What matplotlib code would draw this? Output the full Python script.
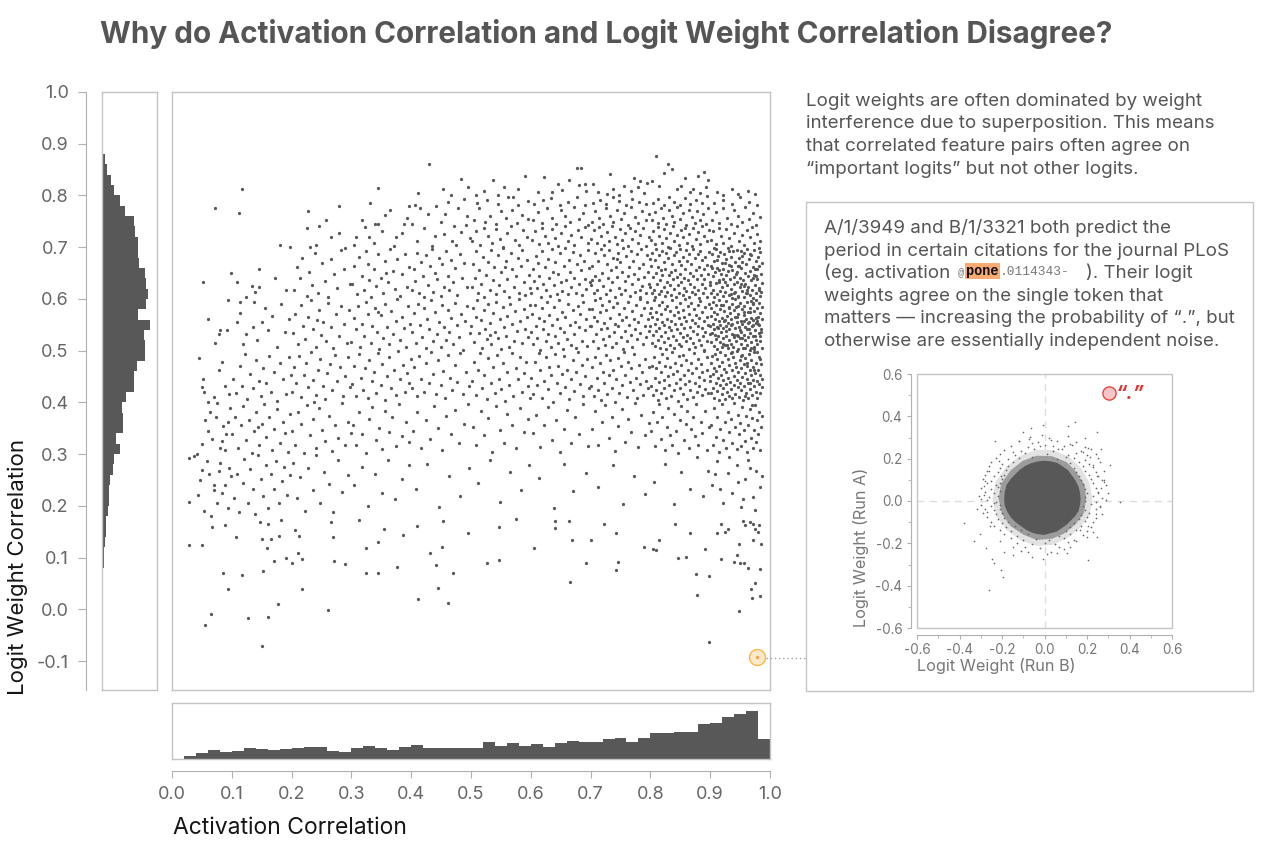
import numpy as np
import matplotlib
matplotlib.use("Agg")
import matplotlib.pyplot as plt
from matplotlib.patches import Rectangle
from matplotlib.lines import Line2D

# ---------------------------------------------------------------- data
# marginal histogram of activation correlation (bins of 0.02 from 0.0)
act_hist = [0, 8, 18, 27, 21, 24, 32, 29, 26, 29,
            32, 35, 36, 24, 21, 34, 38, 33, 27, 36,
            41, 33, 32, 32, 32, 32, 50, 38, 48, 38,
            45, 36, 48, 53, 52, 50, 61, 62, 51, 62,
            78, 79, 81, 81, 104, 107, 126, 134, 142, 60]
act_hist_start = 0.0
# marginal histogram of logit weight correlation (bins of 0.02 from -0.1)
logit_hist = [0.5, 0.5, 0.5, 1, 1, 1, 1.5, 2, 4, 6,
              7, 10, 11, 13, 17, 20, 22, 23, 33, 36,
              54, 43, 64, 64, 61, 71, 95, 95, 106, 128,
              128, 125, 143, 108, 131, 138, 131, 128, 110, 108,
              108, 100, 95, 68, 53, 36, 28, 15, 8, 3]
logit_hist_start = -0.1
hist_bin = 0.02

# feature pairs: (activation correlation, logit weight correlation) x 1000
feature_pairs = [
 # sparse low region
 29,124, 51,124, 67,160, 88,163, 107,140, 86,70, 117,66, 94,39, 65,-10, 56,-30, 150,-70, 127,-17, 160,-14, 177,11,
 261,-2, 217,40, 411,20, 462,13, 445,42, 470,71, 441,85, 431,109, 451,120, 377,82, 344,71, 324,71, 325,118, 344,131,
 289,87, 271,94, 269,140, 266,168, 218,98, 210,108, 200,89, 190,100, 170,93, 153,74, 159,118, 151,135, 165,135, 179,141,
 206,154, 213,142, 147,168, 161,165, 182,172, 313,172, 355,156, 387,143, 409,161, 454,170, 495,148, 527,89, 546,96,
 546,160, 575,175, 605,118, 641,170, 641,158, 664,170, 669,134, 666,53, 700,134, 693,90, 723,165, 742,147, 742,76,
 746,91, 789,120, 805,117, 810,115, 814,133, 841,165, 846,99, 859,102, 867,147, 876,69, 878,27, 891,117, 898,65,
 898,-64, 918,98, 912,148, 918,165, 925,150, 930,155, 939,91, 944,105, 948,127, 948,-3, 950,90, 957,90, 963,80,
 968,39, 970,21, 975,50, 983,77, 983,26, 985,127, 972,133, 955,170, 958,163, 967,168, 972,165, 982,163, 975,155, 980,150,
 # 0.0 - 0.1
 29,208, 43,220, 54,190, 46,250, 51,270, 58,287, 29,293, 37,296, 66,180, 70,240, 70,230, 62,262, 75,205, 81,283,
 88,241, 93,196, 78,268, 96,274, 84,225, 99,258,
 42,300, 50,320, 61,345, 67,330, 73,372, 80,312, 86,355, 91,338, 97,390, 76,398, 55,365, 89,307, 64,381, 94,362, 83,326,
 50,430, 52,445, 54,420, 61,400, 70,410, 45,485, 79,462, 88,431, 96,417, 84,478,
 81,540, 92,540, 78,533, 61,562, 94,597, 72,515, 52,632, 98,651, 72,776,
 # 0.1 - 0.2
 103,215, 108,262, 112,188, 118,244, 121,290, 127,206, 131,271, 136,233, 139,184, 144,298, 148,251, 152,219, 157,279,
 161,196, 166,262, 170,232, 174,287, 179,205, 184,248, 188,276, 193,221, 197,259,
 101,338, 106,372, 110,311, 115,356, 119,393, 124,327, 128,365, 133,302, 137,344, 141,381, 146,318, 150,359, 154,396,
 158,333, 163,371, 167,308, 171,349, 176,387, 180,322, 185,362, 189,340, 194,305, 198,378, 143,352,
 102,446, 107,418, 113,471, 117,432, 122,493, 126,407, 130,455, 135,428, 140,482, 145,441, 149,412, 153,466, 158,437,
 162,490, 166,421, 171,458, 175,403, 180,476, 185,445, 190,417, 195,488, 199,452,
 109,555, 114,573, 113,595, 124,532, 135,545, 150,556, 137,595, 118,512, 142,521, 156,583, 161,540, 168,567, 176,508,
 183,591, 189,536, 196,562,
 109,632, 124,603, 133,625, 145,657, 145,623, 138,613, 172,641, 191,618, 112,766, 181,705, 117,812,
 # 0.2 - 0.3
 203,282, 209,215, 214,256, 222,190, 228,273, 235,231, 241,298, 248,205, 255,266, 262,243, 270,188, 277,289, 285,227, 294,259,
 201,344, 206,317, 211,381, 216,358, 221,302, 226,395, 231,336, 236,368, 241,312, 246,389, 251,347, 256,325, 262,374,
 267,306, 273,357, 278,332, 284,398, 289,318, 295,363, 299,341,
 200,421, 204,468, 208,437, 212,489, 216,410, 220,452, 224,476, 228,429, 232,497, 236,444, 240,415, 244,462, 248,483,
 252,431, 256,406, 260,457, 264,475, 268,424, 272,491, 276,442, 281,468, 286,413, 290,451, 294,487, 298,430, 238,400,
 202,535, 206,571, 211,512, 215,589, 219,548, 223,523, 228,565, 232,597, 236,541, 240,508, 245,578, 249,531, 253,556,
 257,519, 261,593, 266,545, 270,506, 275,571, 279,528, 283,586, 288,552, 292,514, 296,579, 243,560,
 204,618, 209,662, 214,641, 217,680, 225,605, 229,653, 234,627, 239,688, 244,612, 250,669, 256,634, 261,603, 266,677,
 271,648, 276,621, 282,694, 288,657, 297,629,
 198,700, 228,769, 225,737, 246,741, 230,700, 240,704, 266,719, 279,780, 280,728, 258,752,
 # 0.3 - 0.4
 304,241, 317,276, 328,199, 339,262, 351,225, 362,288, 373,213, 385,251, 396,279,
 302,356, 307,318, 313,381, 318,339, 324,302, 330,367, 335,392, 341,327, 346,351, 352,309, 357,384, 363,342, 368,371,
 374,315, 380,397, 385,335, 391,362, 397,324,
 301,436, 305,471, 308,412, 312,493, 316,448, 319,424, 323,467, 327,409, 330,482, 334,441, 338,459, 341,418, 345,496,
 349,433, 352,475, 356,404, 360,451, 363,488, 367,427, 371,463, 374,415, 378,499, 382,445, 386,472, 389,421, 393,457,
 396,437, 399,484,
 300,517, 304,563, 307,541, 311,586, 314,508, 318,552, 321,529, 325,594, 328,571, 332,515, 335,547, 339,582, 342,536,
 346,503, 349,568, 353,524, 356,591, 360,545, 363,512, 367,576, 370,533, 374,558, 377,599, 381,521, 384,565, 388,543,
 391,507, 395,587, 398,552, 344,575,
 301,628, 305,664, 309,609, 313,681, 317,645, 321,617, 325,692, 329,637, 333,603, 337,658, 341,625, 345,686, 349,641,
 353,612, 357,673, 361,632, 365,697, 369,654, 373,619, 377,678, 381,606, 385,649, 389,687, 393,624, 397,662, 358,650, 327,668,
 344,744, 340,744, 329,720, 308,720, 304,705, 290,698, 338,709, 375,719, 388,745, 396,780, 393,757, 385,728, 317,752,
 352,731, 365,771, 331,786, 371,703, 356,762, 322,739, 344,815,
 # 0.4 - 0.5
 408,232, 427,281, 446,197, 463,258, 481,219, 497,274,
 403,344, 410,381, 417,312, 424,365, 431,329, 438,393, 445,351, 452,307, 459,374, 466,338, 473,386, 480,322, 488,359, 495,396,
 401,427, 405,468, 409,412, 413,489, 417,445, 421,421, 425,476, 429,437, 433,498, 437,455, 441,416, 445,482, 449,433,
 453,461, 457,408, 461,491, 465,447, 469,424, 473,472, 477,439, 482,495, 486,416, 491,458, 496,431,
 402,537, 405,572, 408,514, 411,591, 414,549, 418,526, 421,583, 424,505, 427,562, 430,541, 433,597, 436,519, 440,574,
 443,532, 446,556, 449,508, 452,588, 455,545, 458,521, 461,579, 464,536, 467,564, 470,512, 473,593, 476,549, 480,527,
 483,571, 486,502, 490,558, 494,586, 498,535,
 401,618, 404,657, 407,634, 410,689, 413,611, 416,672, 419,645, 422,603, 425,684, 428,627, 431,663, 434,696, 437,614,
 440,651, 443,638, 446,679, 449,606, 452,667, 455,624, 458,692, 461,645, 464,617, 467,676, 470,633, 474,659, 477,608,
 481,687, 485,641, 489,669, 494,624,
 415,775, 442,780, 478,776, 494,760, 402,744, 409,712, 421,738, 428,765, 434,703, 449,749, 455,726, 461,788, 468,711,
 472,741, 484,729, 488,793, 499,718, 406,781, 439,722, 457,764, 475,705, 491,742,
 429,860, 466,800, 495,817, 453,812, 412,805, 483,831,
 # 0.5 - 0.6
 512,244, 531,289, 549,207, 566,266, 583,231, 597,279,
 503,352, 509,318, 516,384, 522,337, 529,369, 535,305, 542,393, 548,346, 555,321, 561,378, 568,356, 575,311, 582,389,
 589,342, 596,367,
 501,441, 505,478, 508,414, 512,463, 515,495, 519,428, 522,452, 526,407, 529,486, 533,437, 536,469, 540,419, 543,491,
 547,446, 550,425, 554,477, 557,403, 561,458, 564,434, 568,496, 571,412, 575,467, 578,445, 582,488, 585,421, 589,456,
 592,479, 596,432, 599,409,
 500,548, 503,583, 505,517, 508,566, 510,597, 513,534, 516,559, 518,506, 521,578, 524,541, 526,522, 529,591, 532,553,
 534,512, 537,572, 540,537, 542,595, 545,524, 548,561, 550,503, 553,584, 556,545, 558,529, 561,567, 564,508, 566,590,
 569,551, 572,519, 574,576, 577,538, 580,599, 582,557, 585,514, 588,581, 590,542, 593,566, 595,526, 598,589, 531,531,
 501,623, 503,667, 506,641, 509,693, 511,612, 514,655, 517,629, 520,681, 522,604, 525,646, 528,672, 531,618, 533,695,
 536,637, 539,661, 542,609, 545,684, 547,627, 550,652, 553,698, 556,616, 558,673, 561,639, 564,604, 567,688, 569,658,
 572,624, 575,645, 578,679, 580,612, 583,664, 586,695, 589,633, 591,608, 594,676, 597,647, 599,621, 557,661,
 502,712, 509,731, 515,704, 522,738, 528,722, 535,709, 541,735, 548,716, 554,701, 561,727, 567,741, 574,713, 580,705,
 587,733, 594,719, 505,752, 514,776, 523,748, 532,761, 541,744, 550,769, 559,757, 568,772, 577,746, 586,763, 595,755,
 510,786, 527,792, 545,783, 562,797, 579,781, 596,789,
 508,800, 545,800, 571,797, 591,838, 522,808, 556,817, 536,829, 579,812,
 # 0.6 - 0.7
 614,253, 638,196, 655,281, 671,228, 692,264,
 603,341, 609,376, 616,313, 622,357, 629,392, 635,328, 642,366, 648,304, 655,349, 661,385, 668,322, 674,371, 681,339,
 688,397, 695,315,
 601,448, 604,417, 607,479, 610,433, 613,496, 616,462, 619,409, 622,441, 625,487, 628,425, 631,468, 634,452, 637,401,
 640,493, 643,437, 646,471, 649,418, 652,455, 655,489, 658,429, 661,463, 664,406, 667,446, 670,481, 673,422, 676,458,
 679,497, 682,436, 685,472, 688,413, 691,451, 694,484, 697,428,
 600,536, 602,571, 604,512, 607,589, 609,548, 611,525, 613,563, 616,502, 618,582, 620,541, 622,557, 625,519, 627,594,
 629,533, 631,568, 634,507, 636,550, 638,585, 640,528, 643,561, 645,515, 647,598, 649,544, 652,575, 654,503, 656,537,
 658,566, 661,522, 663,590, 665,549, 667,511, 670,579, 672,532, 674,556, 676,505, 679,587, 681,545, 683,571, 685,518,
 688,595, 690,539, 692,562, 694,509, 697,581, 699,548,
 601,612, 603,657, 605,634, 608,683, 610,621, 612,669, 614,645, 617,603, 619,692, 621,628, 623,661, 626,617, 628,678,
 630,641, 632,605, 635,697, 637,653, 639,626, 641,671, 644,610, 646,648, 648,688, 650,633, 653,616, 655,664, 657,699,
 659,637, 662,609, 664,676, 666,652, 668,624, 671,691, 673,641, 675,612, 677,667, 680,629, 682,684, 684,655, 686,607,
 689,674, 691,638, 693,619, 695,694, 697,660, 699,633,
 602,714, 607,731, 613,706, 618,738, 624,722, 629,709, 635,736, 640,717, 646,702, 651,728, 657,741, 662,711, 668,724,
 673,705, 679,733, 684,719, 690,739, 695,708, 604,752, 612,768, 619,746, 627,775, 635,757, 642,744, 650,771, 658,761,
 665,749, 673,777, 681,755, 688,766, 696,743, 606,784, 620,791, 634,796, 648,782, 662,788, 677,797, 691,781,
 622,835, 652,811, 677,853, 684,854, 680,820, 690,822, 636,807, 664,829, 612,806, 646,823, 693,809,
 # 0.7 - 0.8
 713,236, 738,279, 755,204, 772,258, 791,223,
 702,349, 708,383, 713,317, 719,362, 724,394, 730,331, 735,372, 741,306, 746,355, 752,388, 757,324, 763,367, 768,342,
 774,398, 779,313, 785,376, 791,336, 797,361,
 701,431, 703,469, 706,412, 708,488, 711,447, 713,423, 716,476, 718,405, 721,459, 723,438, 726,492, 728,416, 731,453,
 733,481, 736,427, 738,463, 741,401, 743,445, 746,486, 748,419, 751,471, 753,434, 756,497, 758,452, 761,411, 763,478,
 766,439, 768,466, 771,424, 773,493, 776,448, 778,408, 781,472, 783,436, 786,459, 788,415, 791,484, 793,442, 796,427, 798,468,
 700,548, 702,581, 704,519, 706,566, 707,597, 709,532, 711,558, 713,506, 715,574, 717,541, 719,589, 720,523, 722,553,
 724,511, 726,578, 728,544, 730,596, 731,529, 733,563, 735,507, 737,585, 739,537, 741,552, 743,514, 744,592, 746,547,
 748,571, 750,526, 752,559, 754,503, 756,583, 757,538, 759,566, 761,518, 763,594, 765,549, 767,531, 769,577, 770,508,
 772,561, 774,542, 776,588, 778,522, 780,556, 782,599, 783,535, 785,569, 787,512, 789,583, 791,547, 793,527, 795,594,
 796,561, 798,538, 799,573,
 701,627, 703,664, 705,611, 707,689, 708,645, 710,618, 712,673, 714,636, 716,602, 718,697, 719,651, 721,625, 723,684,
 725,609, 727,668, 729,641, 731,694, 732,617, 734,656, 736,632, 738,679, 740,604, 742,661, 744,643, 745,688, 747,621,
 749,671, 751,609, 753,652, 755,698, 757,634, 758,617, 760,683, 762,645, 764,662, 766,606, 768,692, 770,629, 771,674,
 773,648, 775,614, 777,686, 779,638, 781,659, 783,603, 784,696, 786,625, 788,667, 790,642, 792,611, 794,684, 796,653,
 797,628, 799,677, 703,636, 744,677, 782,617,
 701,716, 705,733, 710,708, 714,739, 718,722, 723,704, 727,729, 731,712, 736,741, 740,719, 744,706, 749,735, 753,713,
 757,727, 762,702, 766,738, 770,716, 775,731, 779,709, 783,724, 788,737, 792,703, 797,719, 702,748, 708,769, 714,756,
 720,744, 726,775, 732,761, 738,749, 744,772, 750,755, 756,766, 762,743, 768,777, 774,758, 780,747, 786,770, 792,753,
 798,764, 704,786, 715,792, 726,783, 737,797, 748,789, 759,781, 770,794, 781,788, 793,784,
 773,833, 783,828, 794,825, 712,806, 738,812, 727,803, 756,818, 767,808, 789,804, 748,801, 704,822, 733,841, 779,816,
 # 0.8 - 0.9
 806,247, 824,281, 839,203, 851,265, 866,232, 878,294, 888,219, 897,268,
 801,344, 804,381, 807,316, 811,362, 814,397, 817,329, 820,371, 824,308, 827,353, 830,389, 833,336, 836,318, 840,377,
 843,345, 846,302, 849,365, 852,393, 856,327, 859,358, 862,384, 865,311, 868,349, 871,372, 874,335, 877,397, 880,318,
 884,362, 887,341, 891,384, 895,307, 898,353,
 801,432, 802,471, 804,414, 806,488, 807,447, 809,423, 810,466, 812,405, 814,479, 815,439, 817,458, 818,418, 820,494,
 822,443, 823,427, 825,471, 826,409, 828,486, 830,451, 831,433, 833,468, 834,412, 836,497, 838,455, 839,424, 841,476,
 842,437, 844,461, 846,403, 847,489, 849,446, 850,428, 852,473, 854,416, 855,492, 857,452, 858,435, 860,481, 862,407,
 863,463, 865,441, 866,424, 868,477, 870,457, 871,411, 873,496, 874,438, 876,466, 878,421, 879,484, 881,449, 882,431,
 884,474, 886,414, 887,458, 889,499, 890,443, 892,426, 894,487, 895,462, 897,418, 899,451,
 800,547, 801,583, 802,514, 803,566, 804,531, 806,598, 807,552, 808,509, 809,574, 810,538, 811,561, 812,521, 814,589,
 815,543, 816,505, 817,571, 818,528, 819,556, 820,594, 822,517, 823,549, 824,581, 825,536, 826,503, 827,562, 828,587,
 830,524, 831,545, 832,576, 833,511, 834,558, 835,539, 836,597, 838,529, 839,568, 840,506, 841,552, 842,584, 843,521,
 844,541, 846,574, 847,513, 848,563, 849,592, 850,534, 851,552, 852,509, 854,579, 855,527, 856,566, 857,544, 858,599,
 859,518, 860,557, 862,531, 863,586, 864,504, 865,571, 866,546, 867,525, 868,593, 870,559, 871,514, 872,538, 873,581,
 874,553, 875,507, 876,569, 878,532, 879,588, 880,547, 881,521, 882,563, 883,596, 884,511, 886,543, 887,575, 888,528,
 889,557, 890,502, 891,584, 892,536, 894,566, 895,519, 896,549, 898,591, 899,533,
 800,623, 801,664, 802,611, 803,689, 804,642, 806,617, 807,675, 808,603, 809,651, 810,697, 811,628, 812,661, 814,609,
 815,684, 816,637, 817,655, 818,615, 819,692, 820,646, 822,624, 823,671, 824,606, 825,658, 826,688, 827,633, 828,614,
 830,679, 831,647, 832,626, 833,699, 834,653, 835,608, 836,667, 838,638, 839,684, 840,619, 841,656, 842,603, 843,691,
 844,643, 846,627, 847,673, 848,612, 849,649, 850,696, 851,632, 852,665, 854,607, 855,681, 856,641, 857,622, 858,658,
 859,694, 860,616, 862,673, 863,636, 864,604, 865,687, 866,651, 867,629, 868,668, 870,613, 871,697, 872,645, 873,624,
 874,679, 875,609, 876,655, 878,639, 879,686, 880,618, 881,662, 882,601, 883,693, 884,647, 886,628, 887,675, 888,611,
 889,657, 890,638, 891,682, 892,621, 894,665, 895,604, 896,649, 898,691, 899,633,
 801,714, 805,731, 808,706, 812,739, 815,722, 819,709, 822,735, 826,717, 830,701, 833,727, 837,741, 840,712, 844,724,
 847,705, 851,733, 855,719, 858,738, 862,708, 865,726, 869,702, 872,737, 876,715, 880,729, 883,706, 887,740, 890,721,
 894,711, 898,734, 802,752, 807,768, 812,746, 817,775, 821,757, 826,744, 831,771, 836,761, 840,749, 845,777, 850,755,
 855,766, 859,743, 864,772, 869,758, 874,747, 878,769, 883,753, 888,764, 893,745, 897,776, 804,786, 813,793, 822,782,
 831,797, 840,788, 849,781, 858,795, 867,784, 876,791, 886,786, 895,798,
 810,876, 830,860, 836,852, 822,843, 858,833, 879,838, 890,845, 897,829, 845,812, 866,807, 814,818, 883,805,
 803,828, 851,819, 872,812, 893,816,
 # 0.9 - 1.0
 903,241, 912,287, 921,206, 929,263, 936,225, 944,279, 951,198, 958,252, 964,289, 971,217, 977,268, 983,236,
 908,261, 917,233, 932,294, 947,246, 955,213, 966,274, 975,191, 986,257,
 901,356, 904,318, 907,389, 909,334, 912,371, 915,304, 917,349, 920,396, 922,327, 925,362, 927,311, 930,381, 932,343,
 935,367, 937,321, 939,398, 941,352, 944,309, 946,376, 948,338, 950,361, 952,315, 954,392, 956,347, 958,326, 960,373,
 962,304, 964,357, 966,388, 968,331, 970,369, 972,312, 974,346, 975,394, 977,323, 979,365, 980,339, 982,381, 984,307,
 985,352, 986,374, 970,395,
 900,441, 901,476, 902,418, 903,489, 904,455, 905,427, 906,467, 907,409, 908,493, 909,438, 910,461, 911,422, 912,483,
 913,447, 914,405, 915,471, 916,434, 917,497, 918,452, 919,416, 920,478, 921,443, 922,428, 923,465, 924,406, 925,491,
 926,436, 927,459, 928,421, 929,484, 930,448, 931,413, 932,472, 933,439, 934,496, 935,425, 936,462, 937,408, 938,487,
 939,451, 940,433, 941,476, 942,417, 943,469, 944,444, 945,499, 946,429, 947,458, 948,411, 949,481, 950,437, 951,466,
 952,423, 953,492, 954,449, 955,404, 956,474, 957,431, 958,457, 959,486, 960,419, 961,446, 962,471, 963,409, 964,438,
 965,494, 966,463, 967,426, 968,452, 969,481, 970,414, 971,443, 972,468, 973,432, 974,497, 975,456, 976,421, 977,477,
 978,441, 979,408, 980,463, 981,435, 982,488, 983,452, 984,418, 985,474, 986,446, 987,429, 966,437, 958,413,
 900,548, 901,583, 901,516, 902,567, 903,535, 904,594, 905,552, 906,509, 906,574, 907,541, 908,562, 909,523, 910,589,
 911,546, 911,503, 912,571, 913,529, 914,557, 915,598, 916,517, 916,549, 917,581, 918,536, 919,507, 920,563, 921,588,
 921,525, 922,544, 923,576, 924,511, 925,559, 926,538, 926,596, 927,528, 928,567, 929,505, 930,553, 931,584, 931,521,
 932,542, 933,573, 934,513, 935,561, 936,591, 936,533, 937,551, 938,508, 939,579, 940,527, 941,565, 941,543, 942,599,
 943,518, 944,556, 945,531, 946,586, 946,504, 947,570, 948,545, 949,524, 950,592, 951,558, 951,513, 952,537, 953,580,
 954,552, 955,506, 956,568, 956,531, 957,587, 958,546, 959,520, 960,562, 961,595, 961,510, 962,542, 963,574, 964,527,
 965,556, 966,501, 966,583, 967,535, 968,564, 969,517, 970,548, 971,590, 971,528, 972,559, 973,507, 974,576, 975,539,
 976,597, 976,521, 977,553, 978,582, 979,512, 980,566, 981,534, 981,592, 982,549, 983,518, 984,573, 985,541, 986,561,
 986,505, 987,585, 984,529, 979,557, 974,503, 969,596, 963,553, 957,574, 949,539, 943,585, 934,549, 928,511, 923,557,
 918,589, 913,543, 908,531,
 922,512, 927,547, 931,583, 936,498, 940,531, 944,566, 947,603, 951,489, 954,524, 957,558, 960,612, 962,477, 965,541,
 967,575, 969,506, 971,593, 973,462, 975,529, 976,563, 978,498, 980,552, 982,617, 983,484, 985,536, 972,549, 958,506, 946,528,
 900,626, 901,663, 902,612, 903,687, 904,644, 905,618, 906,674, 907,603, 908,652, 909,696, 910,631, 911,659, 912,609,
 913,683, 914,637, 915,655, 916,616, 917,691, 918,648, 919,624, 920,670, 921,606, 922,657, 923,686, 924,633, 925,614,
 926,678, 927,646, 928,627, 929,698, 930,654, 931,608, 932,665, 933,639, 934,682, 935,619, 936,656, 937,602, 938,692,
 939,642, 940,628, 941,672, 942,613, 943,649, 944,695, 945,633, 946,664, 947,605, 948,680, 949,641, 950,623, 951,659,
 952,693, 953,615, 954,671, 955,636, 956,604, 957,688, 958,651, 959,629, 960,667, 961,612, 962,697, 963,645, 964,624,
 965,678, 966,608, 967,654, 968,637, 969,685, 970,617, 971,661, 972,601, 973,694, 974,646, 975,627, 976,674, 977,611,
 978,657, 979,639, 980,681, 981,622, 982,664, 983,606, 984,691, 985,648, 986,631, 987,670, 903,659, 912,675, 921,638,
 931,692, 939,611, 948,664, 957,625, 967,687, 977,644, 985,613, 906,699, 915,633, 925,669, 935,609, 944,652, 953,683,
 962,618, 972,641, 981,699, 934,663, 952,629, 975,658,
 901,714, 905,731, 909,706, 914,738, 918,722, 922,709, 927,735, 931,717, 935,702, 940,728, 944,741, 948,711, 953,724,
 957,705, 961,733, 966,719, 970,739, 974,708, 979,726, 983,712, 903,752, 909,768, 915,746, 921,775, 928,757, 934,744,
 940,771, 946,761, 953,749, 959,777, 965,755, 971,766, 977,743, 984,759, 907,786, 921,792, 936,783, 950,797, 965,788, 979,781,
 912,806, 936,812, 947,803, 963,809, 921,801, 975,802,
]
highlight_pair = (0.978, -0.093)

# inset: logit weights of the two features (Run B on x, Run A on y), x 1000
inset_core = [170,10, 167,40, 160,68, 147,95, 130,119, 112,144, 88,162, 62,179, 31,187, 0,190, -31,187, -62,179,
              -90,166, -116,148, -138,126, -160,103, -179,75, -187,43, -190,10, -187,-23, -174,-53, -156,-80,
              -134,-102, -109,-120, -85,-137, -58,-150, -30,-157, 0,-160, 29,-152, 56,-145, 80,-129, 103,-113,
              123,-93, 143,-73, 160,-48, 167,-20]
inset_fringe_inner = [196,10, 190,74, 150,136, 104,184, 34,212, -38,214, -102,190, -158,146, -204,82, -216,12,
                      -200,-62, -160,-118, -98,-160, -36,-184, 36,-178, 92,-154, 148,-108, 186,-56]
inset_fringe_outer = [225,10, 212,87, 172,155, 115,209, 40,241, -40,241, -117,213, -180,161, -229,94, -245,10,
                      -226,-72, -177,-138, -112,-186, -39,-212, 38,-207, 107,-176, 165,-128, 212,-67]
inset_speckle = [-70,302, 20,296, 110,305, -120,283, -30,277, 60,285, 150,279, -160,262, -80,255, 0,266, 90,258,
                 130,263, 190,256, -190,243, -110,236, -50,245, 40,238, 80,244, 170,237, 220,246, -210,224,
                 -140,218, -90,226, 10,221, 110,216, 150,225, 200,219, 240,223, -230,203, -170,197, -120,205,
                 -60,206, 60,199, 100,207, 140,201, 190,196, 250,204, -250,183, -200,177, -150,185, 120,179,
                 160,184, 210,176, 260,182, -260,163, -210,157, -170,165, 140,158, 180,164, 230,161, -270,142,
                 -220,136, -180,145, 150,138, 190,144, 240,137, 280,141, -280,122, -240,117, -190,125, 160,118,
                 210,124, 250,116, -290,103, -250,96, -200,104, 170,98, 220,105, 270,97, -270,83, -230,77,
                 -210,85, 180,79, 230,84, 290,76, -300,62, -250,57, -220,64, 190,58, 240,63, -280,43, -240,37,
                 -210,45, 200,38, 250,44, 300,36, -310,23, -260,17, -220,24, 190,18, 230,25, 270,16, -270,3,
                 -230,-4, 190,2, 240,-3, 290,4, -300,-17, -250,-24, -210,-18, 180,-23, 220,-16, 260,-22,
                 -280,-37, -240,-44, -210,-38, 190,-43, 240,-36, -290,-57, -230,-63, -200,-56, 170,-64, 210,-58,
                 270,-61, -270,-77, -220,-84, -190,-78, 160,-83, 200,-76, 240,-82, -250,-97, -200,-103,
                 -170,-98, 140,-104, 190,-96, 230,-101, -240,-117, -180,-124, -140,-118, 120,-123, 170,-116,
                 220,-122, -210,-137, -160,-143, -110,-138, 100,-144, 150,-136, 200,-142, -190,-157, -130,-163,
                 -80,-158, 70,-164, 120,-156, 180,-162, -160,-177, -100,-183, -40,-178, 20,-184, 90,-176,
                 140,-182, -130,-197, -60,-203, 0,-198, 50,-204, 110,-196, -90,-217, -20,-223, 70,-218,
                 -110,-237, 30,-243]
inset_outliers = [-103,327, -64,343, -73,291, -12,311, -5,357, 144,371, 112,356, 246,324, 266,248, 306,168, 278,99,
                  282,92, 353,-7, 246,-170, 207,-277, 230,-146, 105,-248, -9,-272, -61,-264, -150,-256, -238,-292,
                  -205,-324, -194,-359, -262,-419, -331,-190, -377,-106, -317,-40, -278,95, -285,72, -234,283,
                  -207,117, -304,-154, -273,-222, -245,-272, 191,299, 207,251, 65,248, 40,259, -122,283, 167,-138,
                  199,-170, 252,40, 262,-30, 248,120, 230,170, 180,230, 120,270, 30,290, -60,275, -150,230,
                  -215,190, -262,140, -285,30, -272,-50, -255,-120, -210,-190, -150,-215, -80,-240, 10,-250,
                  90,-225, 150,-190, 205,-120, 240,-60, 268,60, -240,-10, -300,10, 120,-215, -20,260, 215,210,
                  -190,-240, 60,-245]
period_token = (0.303, 0.51)
period_label = "\u201c.\u201d"

title = "Why do Activation Correlation and Logit Weight Correlation Disagree?"
intro_lines = ["Logit weights are often dominated by weight",
               "interference due to superposition. This means",
               "that correlated feature pairs often agree on",
               "\u201cimportant logits\u201d but not other logits."]
box_lines = ["A/1/3949 and B/1/3321 both predict the",
             "period in certain citations for the journal PLoS",
             None,
             "weights agree on the single token that",
             "matters \u2014 increasing the probability of \u201c.\u201d, but",
             "otherwise are essentially independent noise."]
main_ticks = [-0.1, 0.0, 0.1, 0.2, 0.3, 0.4, 0.5, 0.6, 0.7, 0.8, 0.9, 1.0]
x_ticks = [0.0, 0.1, 0.2, 0.3, 0.4, 0.5, 0.6, 0.7, 0.8, 0.9, 1.0]
inset_ticks = [-0.6, -0.4, -0.2, 0.0, 0.2, 0.4, 0.6]

# ---------------------------------------------------------------- style
plt.rcParams['font.family'] = ['Inter', 'DejaVu Sans']
plt.rcParams['axes.unicode_minus'] = False

W, H = 1267, 848
fig = plt.figure(figsize=(W / 100, H / 100), dpi=100)


def box(l, t, r, b):
    return [l / W, 1 - b / H, (r - l) / W, (b - t) / H]


def fx(px):
    return px / W


def fy(py):
    return 1 - py / H


def xy(lst):
    return np.array(lst, dtype=float).reshape(-1, 2) / 1000.0


BORDER = '#c4c4c4'
AXIS = '#b0b0b0'
DOT = '#585858'
TXT = '#555555'
TICK = '#666666'
BODY = 13.5
YLIM = (-0.156, 1.0)

pts = xy(feature_pairs)

# main scatter
ax = fig.add_axes(box(172, 92, 770, 690))
ax.set_xlim(0, 1)
ax.set_ylim(*YLIM)
ax.set_xticks([])
ax.set_yticks([])
for s in ax.spines.values():
    s.set_color(BORDER)
    s.set_linewidth(1)
ax.scatter(pts[:, 0], pts[:, 1], s=5.5, c=DOT, linewidths=0, zorder=2)
ax.plot([highlight_pair[0]], [highlight_pair[1]], 'o', ms=11.5, mfc='#fde9c9',
        mec='#f6b84c', mew=1, zorder=3, clip_on=False)
ax.plot([highlight_pair[0]], [highlight_pair[1]], 'o', ms=2.4, mfc='#f3a04a',
        mec='none', zorder=4, clip_on=False)

# left marginal histogram
axl = fig.add_axes(box(102, 92, 157, 690))
edges_l = logit_hist_start + hist_bin * np.arange(len(logit_hist))
axl.barh(edges_l, logit_hist, height=hist_bin, align='edge', color=DOT, linewidth=0)
axl.set_ylim(*YLIM)
axl.set_xlim(0, 165)
axl.set_xticks([])
axl.set_yticks([])
for s in axl.spines.values():
    s.set_color(BORDER)
    s.set_linewidth(1)

# bottom marginal histogram
axb = fig.add_axes(box(172, 703, 770, 759))
edges_b = act_hist_start + hist_bin * np.arange(len(act_hist))
axb.bar(edges_b, act_hist, width=hist_bin, align='edge', color=DOT, linewidth=0)
axb.set_xlim(0, 1)
axb.set_ylim(0, 167)
axb.set_xticks([])
axb.set_yticks([])
for s in axb.spines.values():
    s.set_color(BORDER)
    s.set_linewidth(1)

# y axis (detached)
axy = fig.add_axes(box(86, 92, 87, 690))
axy.patch.set_visible(False)
axy.set_ylim(*YLIM)
for k in ['top', 'right', 'bottom']:
    axy.spines[k].set_visible(False)
axy.spines['left'].set_color(AXIS)
axy.set_xticks([])
axy.set_yticks(main_ticks)
axy.set_yticklabels([f"{t:.1f}" for t in main_ticks])
axy.tick_params(axis='y', length=5.5, color=AXIS, labelsize=13, labelcolor=TICK, pad=7)

# x axis (detached)
axx = fig.add_axes(box(172, 769, 770, 771))
axx.patch.set_visible(False)
axx.set_xlim(0, 1)
for k in ['top', 'right', 'left']:
    axx.spines[k].set_visible(False)
axx.spines['bottom'].set_color(AXIS)
axx.set_yticks([])
axx.set_xticks(x_ticks)
axx.set_xticklabels([f"{t:.1f}" for t in x_ticks])
axx.tick_params(axis='x', length=5, color=AXIS, labelsize=13, labelcolor=TICK, pad=6)

# axis titles
fig.text(fx(173), fy(834), "Activation Correlation", ha='left', va='baseline',
         fontsize=16.5, color='#151515')
fig.text(fx(17.5), fy(695), "Logit Weight Correlation", ha='center', va='bottom',
         rotation=90, fontsize=16, color='#151515')

# title
fig.text(fx(100), fy(43), title, ha='left', va='baseline', fontsize=21.4,
         fontweight='bold', color=TXT)

# intro paragraph
for i, line in enumerate(intro_lines):
    fig.text(fx(806), fy(106 + 22.5 * i), line, ha='left', va='baseline',
             fontsize=BODY, color=TXT)

# example box
fig.patches.append(Rectangle((fx(806), fy(691)), (1253 - 806) / W, (691 - 202) / H,
                             transform=fig.transFigure, fill=False, ec=BORDER, lw=1))
for i, line in enumerate(box_lines):
    if line is None:
        continue
    fig.text(fx(824), fy(233.3 + 22.5 * i), line, ha='left', va='baseline',
             fontsize=BODY, color=TXT)
b3 = 233.3 + 22.5 * 2
fig.text(fx(824), fy(b3), "(eg. activation", ha='left', va='baseline', fontsize=BODY, color=TXT)
fig.patches.append(Rectangle((fx(965), fy(279)), 35 / W, 16.5 / H, transform=fig.transFigure,
                             fc='#fbaa72', ec='none'))
fig.text(fx(958), fy(b3 - 3), "@", ha='left', va='baseline', fontsize=7.5,
         family='Liberation Mono', color='#777777')
fig.text(fx(966), fy(b3 - 3), "pone", ha='left', va='baseline', fontsize=9.8,
         family='Liberation Mono', fontweight='bold', color='#111111')
fig.text(fx(1000), fy(b3 - 3), ".0114343-", ha='left', va='baseline', fontsize=9.3,
         family='Liberation Mono', color='#777777')
fig.text(fx(1086), fy(b3), "). Their logit", ha='left', va='baseline', fontsize=BODY, color=TXT)

# connector from highlighted pair to the box
fig.lines.append(Line2D([fx(766), fx(806)], [fy(658), fy(658)], transform=fig.transFigure,
                        color='#a0a0a0', lw=1, ls=(0, (1, 2))))

# inset scatter
axi = fig.add_axes(box(917, 374, 1172, 628))
axi.set_xlim(-0.6, 0.6)
axi.set_ylim(-0.6, 0.6)
axi.axhline(0, color='#dddddd', lw=1, ls=(0, (5, 4)), zorder=0)
axi.axvline(0, color='#dddddd', lw=1, ls=(0, (5, 4)), zorder=0)
fo = xy(inset_fringe_outer)
fi = xy(inset_fringe_inner)
co = xy(inset_core)
sp = xy(inset_speckle)
ou = xy(inset_outliers)
axi.fill(fo[:, 0], fo[:, 1], color='#e2e2e2', lw=0, zorder=1)
axi.fill(fi[:, 0], fi[:, 1], color='#9c9c9c', lw=0, zorder=2)
axi.fill(co[:, 0], co[:, 1], color='#585858', lw=0, zorder=3)
axi.scatter(sp[:, 0], sp[:, 1], s=1.6, c='#6a6a6a', linewidths=0, zorder=4)
axi.scatter(ou[:, 0], ou[:, 1], s=1.4, c='#6a6a6a', linewidths=0, zorder=4)
axi.plot([period_token[0]], [period_token[1]], 'o', ms=9.5, mfc='#f8c6c6', mec='#e8453c',
         mew=1, zorder=5)
axi.text(0.403, 0.48, period_label, ha='center', va='baseline', fontsize=14,
         fontweight='bold', fontstyle='italic', color='#e8302a', zorder=6)
for k in ['top', 'right']:
    axi.spines[k].set_visible(False)
axi.spines['left'].set_position(('outward', 4.5))
axi.spines['bottom'].set_position(('outward', 5))
axi.spines['left'].set_color(AXIS)
axi.spines['bottom'].set_color(AXIS)
axi.add_patch(Rectangle((0, 0), 1, 1, transform=axi.transAxes, fill=False,
                        ec=BORDER, lw=1, clip_on=False, zorder=7))
axi.set_xticks(inset_ticks)
axi.set_yticks(inset_ticks)
axi.set_xticklabels([f"{t:.1f}" for t in inset_ticks])
axi.set_yticklabels([f"{t:.1f}" for t in inset_ticks])
axi.set_xticks(np.round(np.arange(-0.5, 0.6, 0.2), 1), minor=True)
axi.set_yticks(np.round(np.arange(-0.5, 0.6, 0.2), 1), minor=True)
axi.tick_params(which='major', length=3, color=AXIS, labelsize=9.7, labelcolor='#777777', pad=3)
axi.tick_params(which='minor', length=2, color=AXIS)
fig.text(fx(917), fy(671.5), "Logit Weight (Run B)", ha='left', va='baseline',
         fontsize=11.7, color='#777777')
fig.text(fx(861), fy(627), "Logit Weight (Run A)", ha='center', va='bottom',
         rotation=90, fontsize=11.7, color='#777777')

fig.savefig("out.png", dpi=100)
